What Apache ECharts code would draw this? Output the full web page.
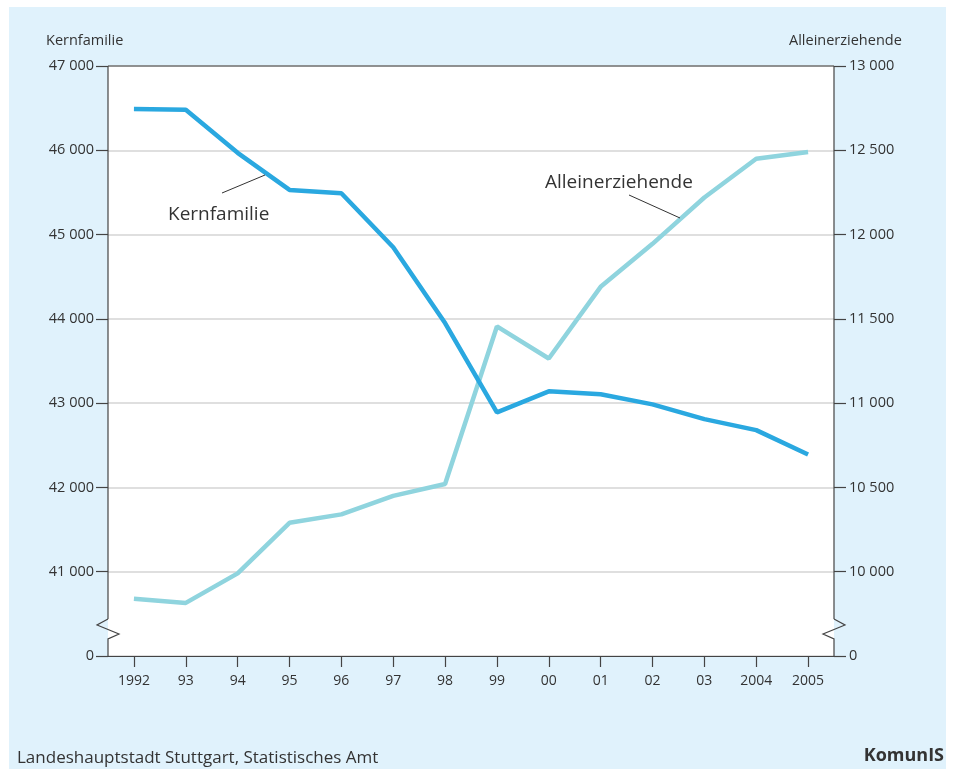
<!DOCTYPE html>
<html>
<head>
<meta charset="utf-8">
<script src="https://cdn.jsdelivr.net/npm/echarts@6/dist/echarts.min.js"></script>
<style>
  html, body { margin: 0; padding: 0; background: #fff; }
  #main { width: 954px; height: 769px; }
</style>
</head>
<body>
<div id="main"></div>
<script>
// data
var years = ["1992", "93", "94", "95", "96", "97", "98", "99", "00", "01", "02", "03", "2004", "2005"];
var kernfamilie = [46490, 46480, 45970, 45530, 45490, 44850, 43950, 42890, 43140, 43105, 42985, 42810, 42680, 42390];
var alleinerziehende = [9840, 9815, 9990, 10290, 10340, 10450, 10520, 11455, 11265, 11690, 11945, 12220, 12450, 12490];

var FONT = "Open Sans";
var TXT = "#333";
var gLeft = 108, gRight = 120, gTop = 66, gBottom = 113;
var xL = gLeft, xR = 954 - gRight, yB = 769 - gBottom;

function fmt(v, breakVal) {
  if (v === breakVal) return "0";
  return String(v).replace(/\B(?=(\d{3})+(?!\d))/g, " ");
}

function zig(x, dir) {
  // axis line with break symbol
  return [
    { type: "polyline", z: 10, shape: { points: [[x, gTop], [x, yB - 37]] }, style: { stroke: "#444", lineWidth: 1.2, fill: "none" } },
    { type: "polyline", z: 10, shape: { points: [[x, yB - 37], [x - 11 * dir, yB - 31], [x + 11 * dir, yB - 22], [x, yB - 17], [x, yB]] }, style: { stroke: "#444", lineWidth: 1.2, fill: "none" } }
  ];
}

var graphics = [
  { type: "rect", z: -10, shape: { x: 0, y: 0, width: 954, height: 7 }, style: { fill: "#fff" } },
  { type: "rect", z: -10, shape: { x: 0, y: 0, width: 9, height: 769 }, style: { fill: "#fff" } },
  { type: "rect", z: -10, shape: { x: 946, y: 0, width: 8, height: 769 }, style: { fill: "#fff" } },
  { type: "text", left: 46, top: 33, style: { text: "Kernfamilie", fontSize: 14.5, fontFamily: FONT, fill: TXT } },
  { type: "text", left: 789, top: 33, style: { text: "Alleinerziehende", fontSize: 14.5, fontFamily: FONT, fill: TXT } },
  { type: "line", z: 10, shape: { x1: xL, y1: gTop, x2: xR, y2: gTop }, style: { stroke: "#444", lineWidth: 1.2 } },
  { type: "line", z: 10, shape: { x1: 222, y1: 193, x2: 265, y2: 175 }, style: { stroke: "#333", lineWidth: 1 } },
  { type: "text", z: 10, left: 168, top: 205, style: { text: "Kernfamilie", fontSize: 19, fontFamily: FONT, fill: TXT } },
  { type: "line", z: 10, shape: { x1: 629, y1: 195, x2: 680, y2: 218 }, style: { stroke: "#333", lineWidth: 1 } },
  { type: "text", z: 10, left: 545, top: 173, style: { text: "Alleinerziehende", fontSize: 19, fontFamily: FONT, fill: TXT } },
  { type: "text", left: 17, top: 750, style: { text: "Landeshauptstadt Stuttgart, Statistisches Amt", fontSize: 17, fontFamily: FONT, fill: TXT } },
  { type: "text", z: 10, style: { x: 944, y: 747, text: "KomunIS", textAlign: "right", fontSize: 18, fontWeight: "bold", fontFamily: "Liberation Sans Narrow, " + FONT, fill: TXT } }
].concat(zig(xL, 1)).concat(zig(xR, -1));

var myChart = echarts.init(document.getElementById("main"));
myChart.setOption({
  backgroundColor: "#e0f2fc",
  animation: false,
  graphic: graphics,
  grid: {
    left: gLeft, right: gRight, top: gTop, bottom: gBottom,
    show: true, backgroundColor: "#fff", borderWidth: 0
  },
  xAxis: {
    type: "category",
    data: years,
    boundaryGap: true,
    axisLine: { show: true, lineStyle: { color: "#444", width: 1.2 } },
    axisTick: { show: true, alignWithLabel: true, length: 11, lineStyle: { color: "#444", width: 1.2 } },
    axisLabel: { color: TXT, fontSize: 14, fontFamily: FONT, margin: 18 }
  },
  yAxis: [
    {
      type: "value", min: 40000, max: 47000, interval: 1000,
      axisLine: { show: false },
      axisTick: { show: true, length: 12, lineStyle: { color: "#444", width: 1.2 } },
      axisLabel: { color: TXT, fontSize: 14.5, fontFamily: FONT, margin: 14, formatter: function (v) { return fmt(v, 40000); } },
      splitLine: { show: true, lineStyle: { color: "#d4d4d4", width: 1.5 } }
    },
    {
      type: "value", min: 9500, max: 13000, interval: 500,
      axisLine: { show: false },
      axisTick: { show: true, length: 12, lineStyle: { color: "#444", width: 1.2 } },
      axisLabel: { color: TXT, fontSize: 14.5, fontFamily: FONT, margin: 15, formatter: function (v) { return fmt(v, 9500); } },
      splitLine: { show: false }
    }
  ],
  series: [
    {
      name: "Kernfamilie", type: "line", yAxisIndex: 0, data: kernfamilie,
      symbol: "none", z: 4,
      lineStyle: { color: "#2aa8e0", width: 4.5 }
    },
    {
      name: "Alleinerziehende", type: "line", yAxisIndex: 1, data: alleinerziehende,
      symbol: "none", z: 3,
      lineStyle: { color: "#8fd4de", width: 4.5 }
    }
  ]
});
</script>
</body>
</html>
